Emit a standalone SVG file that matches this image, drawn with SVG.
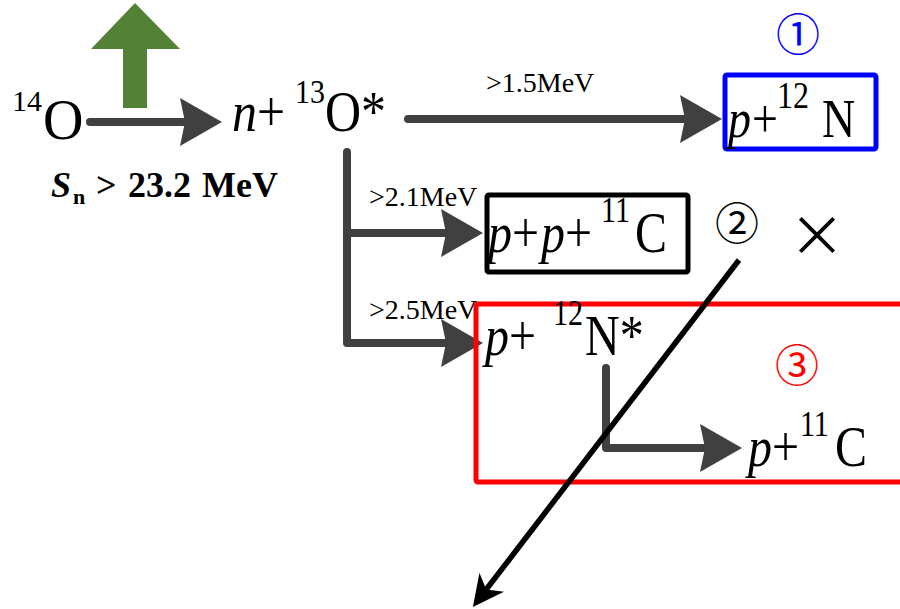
<svg xmlns="http://www.w3.org/2000/svg" width="900" height="609" viewBox="0 0 900 609">
<style>
text{font-family:"Liberation Serif","Times New Roman",serif;fill:#000}
.i{font-style:italic}
.lbl{font-size:28px}
text.circ{font-family:"Noto Sans CJK JP","DejaVu Sans",sans-serif;font-size:44px;text-anchor:middle}
.gr{fill:none;stroke:#404040;stroke-width:8;stroke-linecap:round;stroke-linejoin:round}
</style>
<defs>
<marker id="ah" markerUnits="userSpaceOnUse" viewBox="0 0 42 48" markerWidth="42" markerHeight="48" refX="12" refY="24" orient="auto">
<path d="M0,0 L42,24 L0,48 L5,24 Z" fill="#404040"/>
</marker>
<marker id="bh" markerUnits="userSpaceOnUse" viewBox="0 -16 31 32" markerWidth="31" markerHeight="32" refX="16" refY="0" orient="auto">
<path d="M0,-15.5 L31,0 L0,15.5 L9,0 Z" fill="#000"/>
</marker>
</defs>

<g id="green-arrow">
<polygon points="123,108 147,108 147,49 180,49 135,3 91,49 123,49" fill="#538135"/>
</g>

<g id="connectors">
<line class="gr" x1="90" y1="122" x2="192" y2="122" marker-end="url(#ah)"/>
<line class="gr" x1="408" y1="119" x2="692" y2="119" marker-end="url(#ah)"/>
<path class="gr" d="M347,152 V343 H453" marker-end="url(#ah)"/>
<line class="gr" x1="347" y1="233" x2="453" y2="233" marker-end="url(#ah)"/>
<path class="gr" d="M606,368 V448 H712" marker-end="url(#ah)"/>
</g>

<g id="n14O">
<text x="12" y="111" style="font-size:30px">14</text>
<text x="43" y="139" style="font-size:56px">O</text>
</g>

<g id="sn-label">
<text style="font-weight:bold;font-size:36px">
<tspan x="51" y="197" style="font-style:italic">S</tspan><tspan x="73" y="204" style="font-size:22px">n</tspan><tspan x="96" y="197">&gt;</tspan><tspan x="128" y="197">23.2</tspan><tspan x="202" y="197">MeV</tspan>
</text>
</g>

<g id="n13O" transform="translate(232,131) scale(1,1.12)">
<text style="font-size:50px"><tspan class="i" x="0" y="0">n</tspan><tspan x="25" y="0">+</tspan><tspan x="63" y="-25" style="font-size:30px">13</tspan><tspan x="93" y="0">O*</tspan></text>
</g>

<g id="labels">
<text class="lbl" x="486" y="92">&gt;1.5MeV</text>
<text class="lbl" x="369" y="206">&gt;2.1MeV</text>
<text class="lbl" x="369" y="319">&gt;2.5MeV</text>
</g>

<g id="path1">
<rect x="725" y="75" width="151" height="74" fill="none" stroke="#0000ff" stroke-width="5" rx="2"/>
<g transform="translate(728,137) scale(1,1.2)">
<text style="font-size:46px"><tspan class="i" x="0" y="0">p</tspan><tspan x="24" y="0">+</tspan><tspan x="49" y="-24" style="font-size:32px">12</tspan><tspan x="94" y="0">N</tspan></text>
</g>
<text class="circ" x="798" y="51" style="fill:#0000ff">①</text>
</g>

<g id="path2">
<rect x="487" y="195" width="201" height="77" fill="none" stroke="#000" stroke-width="5" rx="2"/>
<g transform="translate(488,252) scale(1,1.2)">
<text style="font-size:48px"><tspan class="i" x="0" y="0">p</tspan><tspan x="24" y="0">+</tspan><tspan class="i" x="53" y="0">p</tspan><tspan x="77" y="0">+</tspan><tspan x="113" y="-25" style="font-size:30px">11</tspan><tspan x="147" y="0">C</tspan></text>
</g>
<text class="circ" x="737" y="240">②</text>
<text x="817" y="256" style="font-family:'Noto Sans CJK JP','DejaVu Sans',sans-serif;font-size:56px;text-anchor:middle">×</text>
</g>

<g id="path3">
<rect x="476" y="304" width="440" height="178" fill="none" stroke="#ff0000" stroke-width="5" rx="2"/>
<g transform="translate(485,355) scale(1,1.2)">
<text style="font-size:48px"><tspan class="i" x="0" y="0">p</tspan><tspan x="24" y="0">+</tspan><tspan x="68" y="-25" style="font-size:30px">12</tspan><tspan x="100" y="0">N*</tspan></text>
</g>
<g transform="translate(748,466) scale(1,1.2)">
<text style="font-size:48px"><tspan class="i" x="0" y="0">p</tspan><tspan x="24" y="0">+</tspan><tspan x="52" y="-25" style="font-size:30px">11</tspan><tspan x="87" y="0">C</tspan></text>
</g>
<text class="circ" x="797" y="382" style="fill:#ff0000">③</text>
</g>

<g id="cross-arrow">
<line x1="739" y1="260" x2="482" y2="595" stroke="#000" stroke-width="5.5" marker-end="url(#bh)"/>
</g>
</svg>
